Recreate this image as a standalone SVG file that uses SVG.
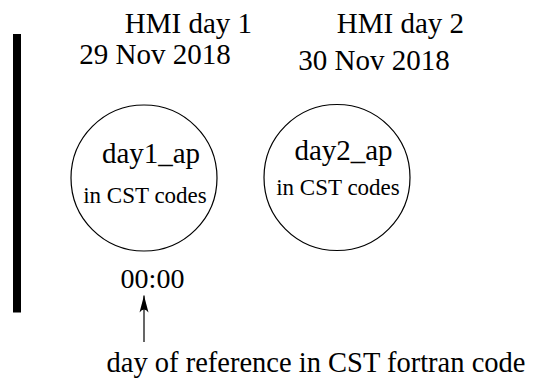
<svg xmlns="http://www.w3.org/2000/svg" width="553" height="378" viewBox="0 0 553 378">
<style>
.node { fill: none; stroke: #000; stroke-width: 1.2; }
.conn { stroke: #000; stroke-width: 1.2; fill: none; }
</style>
<defs>
<marker id="arrow" markerUnits="userSpaceOnUse" markerWidth="20" markerHeight="20" viewBox="0 0 20 20" refX="17" refY="10" orient="auto">
<path d="M0,5.5 Q6,10 0,14.5 L17,10 Z" fill="#000"/>
</marker>
</defs>
<rect id="timeline-bar" x="13" y="34" width="8" height="278.5" fill="#000"/>
<g font-family="'Liberation Serif', 'DejaVu Serif', serif" fill="#000" text-anchor="middle">
<g id="label-day1" font-size="29">
<text x="188.5" y="33">HMI day 1</text>
<text x="155" y="64">29 Nov 2018</text>
</g>
<g id="label-day2" font-size="29">
<text x="400.5" y="33">HMI day 2</text>
<text x="374" y="70">30 Nov 2018</text>
</g>
<g id="day1_ap">
<circle class="node" cx="144" cy="178" r="73"/>
<text x="151" y="163" font-size="29">day1_ap</text>
<text x="145" y="203" font-size="23">in CST codes</text>
</g>
<g id="day2_ap">
<circle class="node" cx="337" cy="177.5" r="73"/>
<text x="343.5" y="160" font-size="29">day2_ap</text>
<text x="338" y="195" font-size="23">in CST codes</text>
</g>
<g id="time-label">
<text x="152.5" y="288" font-size="28">00:00</text>
</g>
<g id="reference-label">
<text x="316" y="371.5" font-size="28.5">day of reference in CST fortran code</text>
</g>
</g>
<g id="connectors">
<line class="conn" x1="144" y1="342" x2="144" y2="295.5" marker-end="url(#arrow)"/>
</g>
</svg>
